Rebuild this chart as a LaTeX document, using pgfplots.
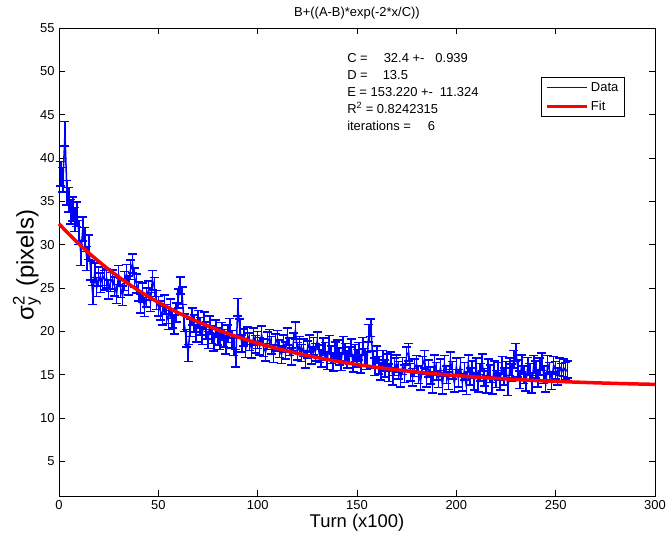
\documentclass[border=0pt]{standalone}
\usepackage{fontspec}
\setmainfont{Liberation Sans}
\usepackage{pgfplots}
\usepackage{pgfplotstable}
\pgfplotsset{compat=1.18}
\usetikzlibrary{calc}

% turn, sigma_y^2, error
\pgfplotstableread{
x y e
1 38.2 1.4
2 37.5 1.4
3 42.8 1.4
4 36.0 1.4
5 35.2 1.4
6 33.8 1.4
7 34.1 1.4
8 32.9 1.4
9 33.5 1.4
10 31.4 1.4
11 29.0 1.4
12 31.8 1.4
13 30.6 1.4
14 28.4 1.4
15 29.7 1.4
16 27.0 1.1
17 24.2 1.1
18 26.8 1.1
19 25.1 1.1
20 26.3 1.1
21 25.6 1.1
22 26.4 1.1
23 25.9 1.1
24 26.1 1.1
25 24.8 1.1
26 25.7 1.1
27 26.0 1.1
28 25.2 1.1
29 24.3 1.1
30 26.5 1.1
31 25.0 1.1
32 24.1 1.1
33 25.8 1.1
34 26.6 1.1
35 25.3 1.1
36 27.1 1.1
37 27.8 1.1
38 26.2 1.1
39 25.5 1.1
40 24.6 1.1
41 23.2 1.1
42 24.5 1.1
43 22.8 1.1
44 23.9 1.1
45 24.7 1.1
46 23.4 1.1
47 25.9 1.1
48 25.1 1.1
49 23.6 1.1
50 22.9 1.1
51 22.4 1.1
52 21.8 1.1
53 23.1 1.1
54 22.0 1.1
55 21.3 1.1
56 22.6 1.1
57 21.5 1.1
58 20.8 1.1
59 22.2 1.1
60 23.8 1.1
61 25.3 1.0
62 24.1 1.0
63 21.0 1.0
64 19.2 1.0
65 17.5 1.0
66 20.4 1.0
67 21.7 1.0
68 20.9 1.0
69 19.8 1.0
70 21.4 1.0
71 20.6 1.0
72 19.5 1.0
73 21.2 1.0
74 20.1 1.0
75 19.0 1.0
76 20.8 1.0
77 19.6 1.0
78 18.7 1.0
79 20.3 1.0
80 19.4 1.0
81 18.9 1.0
82 20.0 1.0
83 19.2 1.0
84 18.4 1.0
85 19.7 1.0
86 20.5 1.0
87 19.1 1.0
88 18.2 1.0
89 16.9 1.0
90 22.8 1.0
91 20.4 1.0
92 18.6 1.0
93 19.3 1.0
94 18.0 1.0
95 19.5 1.0
96 18.8 1.0
97 17.9 1.0
98 19.4 1.0
99 18.5 1.0
100 19.0 1.0
101 18.3 1.0
102 19.6 1.0
103 18.1 1.0
104 17.6 1.0
105 18.9 1.0
106 19.2 1.0
107 18.4 1.0
108 17.4 1.0
109 18.7 1.0
110 19.1 1.0
111 18.0 1.0
112 17.3 1.0
113 18.6 1.0
114 17.8 1.0
115 19.4 1.0
116 18.2 1.0
117 17.1 1.0
118 18.8 1.0
119 20.1 1.0
120 17.7 1.0
121 18.4 1.0
122 17.5 1.0
123 18.1 1.0
124 16.8 1.0
125 17.9 1.0
126 18.6 1.0
127 17.2 1.0
128 18.3 1.0
129 17.6 1.0
130 18.9 1.0
131 17.4 1.0
132 16.9 1.0
133 18.2 1.0
134 17.7 1.0
135 16.6 1.0
136 18.5 1.0
137 17.3 1.0
138 16.4 1.0
139 17.8 1.0
140 18.0 1.0
141 17.1 1.0
142 16.5 1.0
143 18.4 1.0
144 17.6 1.0
145 16.8 1.0
146 17.2 1.0
147 18.1 1.0
148 16.3 1.0
149 17.5 1.0
150 16.9 1.0
151 17.7 1.0
152 16.2 1.0
153 18.3 1.0
154 17.0 1.0
155 16.6 1.0
156 19.8 1.0
157 20.4 1.0
158 16.7 1.0
159 15.9 1.0
160 17.3 1.0
161 16.1 1.0
162 15.4 1.0
163 16.8 1.0
164 15.7 1.0
165 16.4 1.0
166 15.2 1.0
167 16.6 1.0
168 14.8 1.0
169 15.9 1.0
170 16.3 1.0
171 15.5 1.0
172 14.6 1.0
173 16.0 1.0
174 15.1 1.0
175 17.2 1.0
176 17.6 1.0
177 15.3 1.0
178 14.7 1.0
179 15.8 1.0
180 16.2 1.0
181 15.0 1.0
182 14.2 1.0
183 16.1 1.0
184 16.8 1.0
185 14.6 1.0
186 15.7 1.0
187 14.9 1.0
188 13.9 1.0
189 16.3 1.0
190 15.4 1.0
191 14.5 1.0
192 15.8 1.0
193 13.8 1.0
194 16.2 1.0
195 15.0 1.0
196 14.3 1.0
197 16.6 1.0
198 15.5 1.0
199 14.0 1.0
200 15.9 1.0
201 14.6 1.0
202 16.0 1.0
203 14.1 1.0
204 15.4 1.0
205 13.7 1.0
206 16.3 1.0
207 14.8 1.0
208 15.6 1.0
209 14.2 1.0
210 15.9 1.0
211 14.0 1.0
212 15.3 1.0
213 16.4 1.0
214 14.7 1.0
215 13.9 1.0
216 15.8 1.0
217 15.1 1.0
218 13.8 1.0
219 15.6 1.0
220 14.5 1.0
221 15.4 1.0
222 14.2 1.0
223 16.1 1.0
224 14.8 1.0
225 15.5 1.0
226 13.6 1.0
227 15.9 1.0
228 15.2 1.0
229 16.8 1.0
230 17.6 1.0
231 15.7 1.0
232 14.4 1.0
233 16.3 1.0
234 15.0 1.0
235 14.1 1.0
236 16.0 1.0
237 15.3 1.0
238 13.9 1.0
239 16.2 1.0
240 15.6 1.0
241 14.6 1.0
242 15.9 1.0
243 16.5 1.0
244 15.0 1.0
245 14.0 1.0
246 16.2 1.0
247 15.4 1.0
248 14.3 1.0
249 16.1 1.0
250 15.5 1.0
251 14.8 1.0
252 15.9 1.0
253 15.3 1.0
254 15.8 1.0
255 15.4 1.0
256 15.6 1.0
}\datatable

% fitted curve
\pgfplotstableread{
x y
0 32.40
5 31.21
10 30.09
15 29.04
20 28.06
25 27.14
30 26.28
35 25.47
40 24.71
45 24.00
50 23.34
60 22.14
70 21.08
80 20.15
90 19.34
100 18.62
110 18.00
120 17.45
130 16.96
140 16.54
150 16.17
160 15.84
170 15.56
180 15.30
190 15.08
200 14.89
210 14.72
220 14.57
230 14.44
240 14.32
250 14.22
260 14.14
270 14.06
280 13.99
290 13.93
300 13.88
}\fittable

\begin{document}
\begin{tikzpicture}[color=blue]
\begin{axis}[
    scale only axis,
    width=596bp, height=468bp,
    xmin=0, xmax=300,
    ymin=1, ymax=55,
    xtick={0,50,...,300},
    ytick={5,10,...,55},
    tick align=inside,
    major tick length=6bp,
    axis line style={draw=black, line width=0.9bp},
    every tick/.style={black, line width=0.9bp},
    tick label style={black, font=\fontsize{13}{15}\selectfont},
    /pgf/number format/assume math mode=true,
    xticklabel style={yshift=-1bp},
    yticklabel style={xshift=-1bp},
    clip=false,
    legend cell align=left,
    legend style={at={(0.809,0.895)}, anchor=north west, draw=black,
        text=black, fill=white,
        line width=0.6bp, font=\fontsize{13}{15}\selectfont,
        inner xsep=4bp, inner ysep=3bp, row sep=4bp},
    legend image code/.code={\draw[#1] (0bp,0bp) -- (40bp,0bp);},
]
\addplot[color=blue, line width=1.5bp, no marks, forget plot,
    error bars/.cd, y dir=both, y explicit,
    error bar style={color=blue, line width=1.5bp},
    error mark options={color=blue, draw=blue, line width=1.6bp, mark size=4.5bp, rotate=90}]
    table[x=x, y=y, y error=e] {\datatable};
\addplot[red, line width=3.5bp, no marks, forget plot] table[x=x, y=y] {\fittable};
\addlegendimage{draw=blue, line width=1bp}
\addlegendentry{Data}
\addlegendimage{draw=red, line width=3.5bp}
\addlegendentry{Fit}
\node[black, anchor=north west, inner sep=0, align=left,
    font=\fontsize{13}{17}\selectfont] at (axis cs:145,52.1)
    {C =\hspace{16bp}32.4 +-\hspace{11bp}0.939\\
     D =\hspace{15bp}13.5\\
     E = 153.220 +-\hspace{7bp}11.324\\
     R\textsuperscript{2} = 0.8242315\\
     iterations =\hspace{17bp}6};
\end{axis}
\node[black, font=\fontsize{13}{15}\selectfont] at ($(current axis.north)+(0,15bp)$) {B+((A-B)*exp(-2*x/C))};
\node[black, font=\fontsize{18.5}{22}\selectfont] at ($(current axis.south)+(0,-27bp)$) {Turn (x100)};
\node[black, rotate=90, font=\fontsize{24}{28}\selectfont] at ($(current axis.west)+(-32bp,-3bp)$)
    {σ\rlap{\textsuperscript{2}}\textsubscript{y}\hspace{3bp} (pixels)};
\pgfresetboundingbox
\path ($(current axis.south west)+(-59bp,-47bp)$) rectangle ($(current axis.north east)+(17bp,28bp)$);
\end{tikzpicture}
\end{document}
